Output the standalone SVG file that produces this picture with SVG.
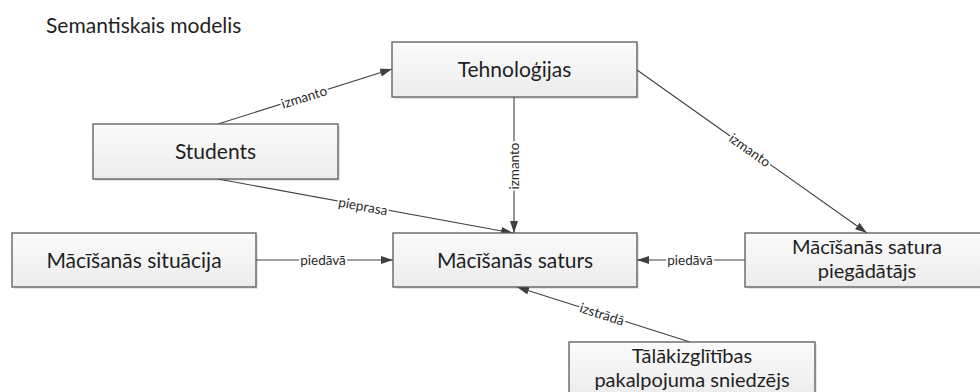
<svg xmlns="http://www.w3.org/2000/svg" width="980" height="392" viewBox="0 0 980 392">
  <style>
    .box { fill: url(#boxFill); stroke: #595959; stroke-width: 1.3; }
    .shadow { fill: #000; opacity: 0.10; }
    .lbl { font-family: Lato, "Open Sans", "Liberation Sans", sans-serif; font-size: 21px; fill: #1f1f1f; text-anchor: middle; }
    .lbl2 { font-size: 20px; }
    .title { font-family: Lato, "Open Sans", "Liberation Sans", sans-serif; font-size: 21px; fill: #1f1f1f; }
    .edge { stroke: #404040; stroke-width: 1.1; fill: none; marker-end: url(#arrow); }
    .elbl { font-family: Lato, "Open Sans", "Liberation Sans", sans-serif; font-size: 13.5px; fill: #2a2a2a; text-anchor: middle; dominant-baseline: central; stroke: #fff; stroke-width: 4; paint-order: stroke; stroke-linejoin: round; }
  </style>
  <defs>
    <linearGradient id="boxFill" x1="0" y1="0" x2="0" y2="1">
      <stop offset="0" stop-color="#fbfbfb"/>
      <stop offset="1" stop-color="#ececec"/>
    </linearGradient>
    <marker id="arrow" markerUnits="userSpaceOnUse" markerWidth="13" markerHeight="9" refX="12" refY="4" orient="auto">
      <path d="M0,0 L12,4 L0,8 Z" fill="#404040"/>
    </marker>
  </defs>

  <rect width="980" height="392" fill="#fff"/>

  <text class="title" x="46" y="33">Semantiskais modelis</text>

  <!-- relations -->
  <g id="connectors">
    <path class="edge" d="M218,124 L392,69"/>
    <path class="edge" d="M514,97 L514,233"/>
    <path class="edge" d="M637,70 L867,233"/>
    <path class="edge" d="M218,179 L513,233"/>
    <path class="edge" d="M256,260 L393,260"/>
    <path class="edge" d="M745,260 L637,260"/>
    <path class="edge" d="M690,342 L517,287"/>

    <text class="elbl" transform="translate(304,97) rotate(-17.5)">izmanto</text>
    <text class="elbl" transform="translate(514,166) rotate(-90)">izmanto</text>
    <text class="elbl" transform="translate(750,150) rotate(35.3)">izmanto</text>
    <text class="elbl" transform="translate(363,206) rotate(10.4)">pieprasa</text>
    <text class="elbl" x="323" y="260">piedāvā</text>
    <text class="elbl" x="690" y="260">piedāvā</text>
    <text class="elbl" transform="translate(602,314) rotate(17.6)">izstrādā</text>
  </g>

  <g id="tehnologijas">
    <rect class="shadow" x="394" y="44" width="245" height="55"/>
    <rect class="box" x="392" y="42" width="245" height="55"/>
    <text class="lbl" x="514.5" y="77">Tehnoloģijas</text>
  </g>

  <g id="students">
    <rect class="shadow" x="95" y="126" width="245" height="55"/>
    <rect class="box" x="93" y="124" width="245" height="55"/>
    <text class="lbl" x="215.5" y="159">Students</text>
  </g>

  <g id="macisanas-situacija">
    <rect class="shadow" x="14" y="235" width="244" height="54"/>
    <rect class="box" x="12" y="233" width="244" height="54"/>
    <text class="lbl" x="134" y="268">Mācīšanās situācija</text>
  </g>

  <g id="macisanas-saturs">
    <rect class="shadow" x="395" y="235" width="244" height="54"/>
    <rect class="box" x="393" y="233" width="244" height="54"/>
    <text class="lbl" x="515" y="268">Mācīšanās saturs</text>
  </g>

  <g id="satura-piegadatajs">
    <rect class="shadow" x="747" y="235" width="245" height="54"/>
    <rect class="box" x="745" y="233" width="245" height="54"/>
    <text class="lbl lbl2" x="867" y="254">Mācīšanās satura</text>
    <text class="lbl lbl2" x="867" y="278">piegādātājs</text>
  </g>

  <g id="talakizglitibas-sniedzejs">
    <rect class="shadow" x="571" y="344" width="246" height="54"/>
    <rect class="box" x="569" y="342" width="246" height="54"/>
    <text class="lbl lbl2" x="692" y="363">Tālākizglītības</text>
    <text class="lbl lbl2" x="692" y="387">pakalpojuma sniedzējs</text>
  </g>
</svg>
